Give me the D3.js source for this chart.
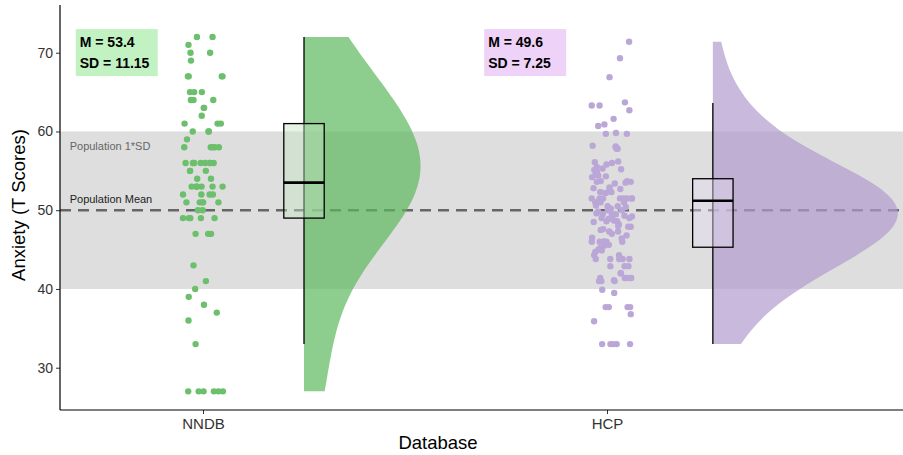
<!DOCTYPE html>
<html>
<head>
<meta charset="utf-8" />
<style>
  body { margin: 0; background: #fff; }
  svg text { font-family: "Liberation Sans", Arial, sans-serif; }
</style>
</head>
<body>
<div id="chart"></div>
<script src="https://cdn.jsdelivr.net/npm/d3@7"></script>
<script>
// ---- data ----
var groups = ['NNDB', 'HCP'];
var groupColors = ['#6cbf6c', '#bba7d7'];
var violinColors = ['#5cb85c', '#b29bcf'];
var labelFills = ['#c2f2c2', '#eed2f7'];
var statLabels = [['M = 53.4', 'SD = 11.15'], ['M = 49.6', 'SD = 7.25']];

var nndbScores = [72,72,71,70,70,69,67,67,67,67,65,65,65,64,64,64,63,63,62,61,61,61,
  60,60,60,59,58,58,58,58,58,56,56,56,56,56,56,56,56,55,55,55,54,54,53,53,53,53,53,53,53,
  52,52,52,52,51,51,51,51,51,50,50,49,49,49,49,49,47,47,47,43,41,40,39,38,37,36,33,
  27,27,27,27,27,27];

var hcpScores = [71.4,69.3,66.9,63.7,63.3,63.3,62.7,61.6,60.9,60.7,59.8,59.7,59.7,
  58.1,58.2,58,57.8,57.8,56.1,56,56.2,55.8,55.2,55,54.9,55.1,55.5,55.3,
  54.4,54.2,54.3,54.5,53.6,53.5,53.7,53.6,53.4,53.7,52.8,52.7,52.9,52.7,
  52.3,52.3,52.2,52.3,51.5,51.5,51.5,51.5,51.5,51.5,51.5,51.5,51,51,51,51,
  50.4,50.5,50.5,50.6,50.3,50.2,50,50,49.8,49.6,49.5,49.5,49.3,49.3,49.5,49.2,49,49,48.9,
  48.6,48.7,48.6,48.5,48.2,48,47.9,47.9,47.6,47.5,47.3,47.3,47,46.8,46.5,46.4,46,46,46,46,46,46,46,
  45.6,45.5,45.2,45,44.9,44.7,44.3,44.3,43.8,43.8,43.8,43.8,43.8,42.9,42.9,42.9,42,42,
  41.4,41.4,41.4,41.4,41.1,41,41,41,39.5,39.9,37.7,37.7,37.7,37.7,36.8,35.9,
  33,33,33,33,33];

// min, q1, median, q3, max of each box
var boxStats = [[33, 49, 53.5, 61, 72], [33, 45.3, 51.2, 54, 63.6]];
var bandwidths = [8, 4.3];
var groupNudge = [0, 0.012];

var yTicks = [30, 40, 50, 60, 70];
var popMean = 50, popSD = 10;

var scores = [nndbScores, hcpScores];

// ---- layout ----
var width = 903, height = 455;
var padL = 60, padR = 903, padT = 5, padB = 410;

var svg = d3.select('#chart').append('svg')
  .attr('width', width).attr('height', height);

var y = d3.scaleLinear().domain([24.63, 76.06]).range([padB, padT]);
var x = d3.scaleLinear().domain([0, 1]).range([203, 607]);
var boxShift = 0.25, boxHalf = 0.05, jitter = 0.05;

// population band and mean line
svg.append('rect')
  .attr('x', padL).attr('width', padR - padL)
  .attr('y', y(popMean + popSD)).attr('height', y(popMean - popSD) - y(popMean + popSD))
  .attr('fill', '#dedede');

svg.append('line')
  .attr('x1', padL).attr('x2', padR)
  .attr('y1', y(popMean)).attr('y2', y(popMean))
  .attr('stroke', '#666').attr('stroke-width', 2.5)
  .attr('stroke-dasharray', '11,7');

svg.append('text').attr('x', x(-0.33)).attr('y', y(57.6))
  .attr('font-size', 11).attr('fill', '#666').text('Population 1*SD');
svg.append('text').attr('x', x(-0.33)).attr('y', y(50.9))
  .attr('font-size', 11).attr('fill', '#222').text('Population Mean');

// jittered points
var rand = d3.randomUniform.source(d3.randomLcg(0.42))(-jitter, jitter);
groups.forEach(function(g, i) {
  svg.append('g').selectAll('circle')
    .data(scores[i])
    .enter().append('circle')
    .attr('cx', function() { return x(i + groupNudge[i] + rand()); })
    .attr('cy', function(d) { return y(d); })
    .attr('r', 3.2)
    .attr('fill', groupColors[i]);
});

// half violins (gaussian kde, trimmed to data range, area-scaled)
function kde(values, bw) {
  var lo = d3.min(values), hi = d3.max(values);
  var grid = d3.range(0, 201).map(function(k) { return lo + (hi - lo) * k / 200; });
  return grid.map(function(v) {
    var s = d3.sum(values, function(d) {
      var u = (v - d) / bw;
      return Math.exp(-0.5 * u * u);
    });
    return [v, s / (values.length * bw * Math.sqrt(2 * Math.PI))];
  });
}
var dens = scores.map(function(s, i) { return kde(s, bandwidths[i]); });
var maxD = d3.max(dens, function(d) { return d3.max(d, function(p) { return p[1]; }); });
var w = d3.scaleLinear().domain([0, maxD]).range([0, 185]);

groups.forEach(function(g, i) {
  var cx = x(i + groupNudge[i] + boxShift);
  var area = d3.area()
    .curve(d3.curveBasis)
    .y(function(p) { return y(p[0]); })
    .x0(cx)
    .x1(function(p) { return cx + w(p[1]); });
  svg.append('path')
    .datum(dens[i])
    .attr('d', area)
    .attr('fill', violinColors[i])
    .attr('fill-opacity', 0.7);
});

// boxplots
groups.forEach(function(g, i) {
  var b = boxStats[i], c = i + groupNudge[i] + boxShift;
  var gb = svg.append('g');
  gb.append('line')
    .attr('x1', x(c)).attr('x2', x(c))
    .attr('y1', y(b[0])).attr('y2', y(b[4]))
    .attr('stroke', '#000').attr('stroke-width', 1.3);
  gb.append('rect')
    .attr('x', x(c - boxHalf)).attr('width', x(c + boxHalf) - x(c - boxHalf))
    .attr('y', y(b[3])).attr('height', y(b[1]) - y(b[3]))
    .attr('fill', d3.interpolateRgb(groupColors[i], '#fff')(0.6))
    .attr('fill-opacity', 0.45)
    .attr('stroke', '#000').attr('stroke-width', 1.3);
  gb.append('line')
    .attr('x1', x(c - boxHalf)).attr('x2', x(c + boxHalf))
    .attr('y1', y(b[2])).attr('y2', y(b[2]))
    .attr('stroke', '#000').attr('stroke-width', 2.6);
});

// mean / sd labels
var labelAt = [[-0.315, 73.0], [0.696, 73.0]];
groups.forEach(function(g, i) {
  var lx = x(labelAt[i][0]), ly = y(labelAt[i][1]);
  svg.append('rect')
    .attr('x', lx).attr('y', ly).attr('width', 82).attr('height', 47)
    .attr('fill', labelFills[i]);
  statLabels[i].forEach(function(t, k) {
    svg.append('text')
      .attr('x', lx + 4).attr('y', ly + 18 + k * 21)
      .attr('font-size', 14).attr('font-weight', 'bold').attr('fill', '#000')
      .text(t);
  });
});

// axes
var yAxis = svg.append('g')
  .attr('transform', 'translate(' + padL + ',0)')
  .call(d3.axisLeft(y).tickValues(yTicks).tickSize(4).tickPadding(3));
var xAxis = svg.append('g')
  .attr('transform', 'translate(0,' + padB + ')')
  .call(d3.axisBottom(x).tickValues([0, 1]).tickFormat(function(d) { return groups[d]; })
    .tickSize(4).tickPadding(4));

[yAxis, xAxis].forEach(function(a) {
  a.select('.domain').remove();
  a.selectAll('.tick line').attr('stroke', '#333').attr('stroke-width', 1);
  a.selectAll('.tick text').attr('font-size', 14).attr('fill', '#333')
    .style('font-family', '"Liberation Sans", Arial, sans-serif');
});
xAxis.selectAll('.tick text').attr('font-size', 15);

svg.append('line').attr('x1', padL).attr('x2', padL).attr('y1', padT).attr('y2', padB)
  .attr('stroke', '#000').attr('stroke-width', 1.2);
svg.append('line').attr('x1', padL).attr('x2', padR).attr('y1', padB).attr('y2', padB)
  .attr('stroke', '#000').attr('stroke-width', 1.2);

svg.append('text')
  .attr('transform', 'translate(25,' + 205 + ') rotate(-90)')
  .attr('text-anchor', 'middle').attr('font-size', 18.5).attr('fill', '#000')
  .text('Anxiety (T Scores)');
svg.append('text')
  .attr('x', 438).attr('y', 449)
  .attr('text-anchor', 'middle').attr('font-size', 18.5).attr('fill', '#000')
  .text('Database');
</script>
</body>
</html>
